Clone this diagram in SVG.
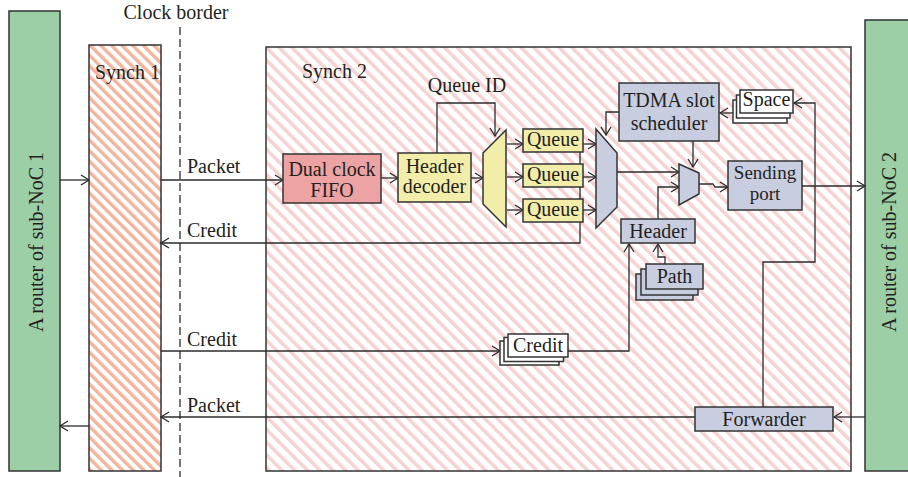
<svg xmlns="http://www.w3.org/2000/svg" width="908" height="477" viewBox="0 0 908 477">
  <defs>
    <!-- diagonal hatching for the two synchronizer areas -->
    <pattern id="hatchOrange" patternUnits="userSpaceOnUse" width="7.5" height="7.5" patternTransform="rotate(-45)">
      <rect width="7.5" height="7.5" fill="#ffffff"/>
      <rect width="3.4" height="7.5" fill="#f2b49c"/>
    </pattern>
    <pattern id="hatchPink" patternUnits="userSpaceOnUse" width="9" height="9" patternTransform="rotate(-45)">
      <rect width="9" height="9" fill="#ffffff"/>
      <rect width="3.6" height="9" fill="#f6d3d3"/>
    </pattern>
    <marker id="arrow" markerUnits="userSpaceOnUse" markerWidth="12" markerHeight="12" viewBox="0 0 12 12" refX="10" refY="6" orient="auto">
      <path d="M2,1 L10,6 L2,11" fill="none" stroke="#2b2b2b" stroke-width="1.3"/>
    </marker>
  </defs>
  <style>
    text { font-family: 'Liberation Serif', 'DejaVu Serif', 'Noto Serif', serif; font-size: 20px; fill: #231f20; }
    .mid { text-anchor: middle; }
    .box { stroke: #333333; stroke-width: 1.5; }
    .router { fill: #9ccfa5; stroke: #333333; stroke-width: 1.5; }
    .red { fill: #eda3a3; }
    .yellow { fill: #f2eda9; }
    .blue { fill: #c8cde0; }
    .white { fill: #ffffff; }
    .wire { fill: none; stroke: #2b2b2b; stroke-width: 1.3; }
    .arr { marker-end: url(#arrow); }
  </style>

  <rect width="908" height="477" fill="#ffffff"/>

  <!-- routers on both sides -->
  <g id="router1">
    <rect class="router" x="9" y="11" width="51" height="460"/>
    <text class="mid" transform="translate(43,242) rotate(-90)">A router of sub-NoC 1</text>
  </g>
  <g id="router2">
    <rect class="router" x="865" y="20" width="48" height="451"/>
    <text class="mid" transform="translate(896,242) rotate(-90)">A router of sub-NoC 2</text>
  </g>

  <!-- synchronizer regions -->
  <g id="synch1">
    <rect class="box" x="89" y="45" width="72" height="426" fill="url(#hatchOrange)"/>
    <text x="95" y="79">Synch 1</text>
  </g>
  <g id="synch2">
    <rect class="box" x="266" y="47" width="585" height="424" fill="url(#hatchPink)"/>
    <text x="302" y="78">Synch 2</text>
  </g>

  <!-- clock border -->
  <g id="clock-border">
    <line x1="180" y1="27" x2="180" y2="477" stroke="#2b2b2b" stroke-width="1.3" stroke-dasharray="8,4"/>
    <text class="mid" x="176" y="19">Clock border</text>
  </g>

  <!-- connectors -->
  <g id="connectors">
    <path class="wire arr" d="M60,180 H89"/>
    <path class="wire arr" d="M161,180 H283"/>
    <path class="wire arr" d="M381,178 H398"/>
    <path class="wire arr" d="M471,178 H483"/>
    <path class="wire arr" d="M437,153 V103 H495 V136"/>
    <path class="wire arr" d="M507,144 H523"/>
    <path class="wire arr" d="M507,177 H523"/>
    <path class="wire arr" d="M507,210 H523"/>
    <path class="wire arr" d="M583,144 H596"/>
    <path class="wire arr" d="M583,177 H596"/>
    <path class="wire arr" d="M583,210 H596"/>
    <path class="wire arr" d="M580,140 V243 H161"/>
    <path class="wire arr" d="M619,112 H606 V135"/>
    <path class="wire arr" d="M733,113 H720"/>
    <path class="wire arr" d="M763,407 V262 H815 V103 H794"/>
    <path class="wire arr" d="M617,172 H679"/>
    <path class="wire arr" d="M658,219 V187 H679"/>
    <path class="wire arr" d="M693,141 V167"/>
    <path class="wire arr" d="M699,184 H713 L715,187 H728"/>
    <path class="wire arr" d="M802,186 H865"/>
    <path class="wire arr" d="M665,264 V257 H658 V244"/>
    <path class="wire arr" d="M161,351 H500"/>
    <path class="wire arr" d="M568,351 H629 V244"/>
    <path class="wire arr" d="M865,417 H834"/>
    <path class="wire arr" d="M695,417 H161"/>
    <path class="wire arr" d="M89,426 H60"/>
    <text x="187" y="173">Packet</text>
    <text x="187" y="237">Credit</text>
    <text x="187" y="346">Credit</text>
    <text x="187" y="412">Packet</text>
    <text class="mid" x="467" y="92">Queue ID</text>
  </g>

  <!-- blocks inside Synch 2 -->
  <g id="fifo">
    <rect class="box red" x="283" y="154" width="98" height="49"/>
    <text class="mid" x="332" y="176">Dual clock</text>
    <text class="mid" x="332" y="197">FIFO</text>
  </g>
  <g id="header-decoder">
    <rect class="box yellow" x="398" y="153" width="73" height="49"/>
    <text class="mid" x="434.5" y="173">Header</text>
    <text class="mid" x="434.5" y="193">decoder</text>
  </g>
  <g id="demux">
    <polygon class="box yellow" points="483,153 506,130 506,227 483,204"/>
  </g>
  <g id="queue1">
    <rect class="box yellow" x="523" y="129" width="60" height="23"/>
    <text class="mid" x="553" y="146">Queue</text>
  </g>
  <g id="queue2">
    <rect class="box yellow" x="523" y="164" width="60" height="23"/>
    <text class="mid" x="553" y="181">Queue</text>
  </g>
  <g id="queue3">
    <rect class="box yellow" x="523" y="199" width="60" height="23"/>
    <text class="mid" x="553" y="216">Queue</text>
  </g>
  <g id="mux">
    <polygon class="box blue" points="596,129 617,153 617,207 596,228"/>
  </g>
  <g id="tdma-scheduler">
    <rect class="box blue" x="619" y="83" width="100" height="58"/>
    <text class="mid" x="669" y="107">TDMA slot</text>
    <text class="mid" x="669" y="130">scheduler</text>
  </g>
  <g id="space">
    <rect class="box white" x="733" y="100" width="54" height="23"/>
    <rect class="box white" x="736.5" y="95" width="53.5" height="23"/>
    <rect class="box white" x="740" y="90" width="53" height="23"/>
    <text class="mid" x="766.5" y="106">Space</text>
  </g>
  <g id="select-mux">
    <polygon class="box blue" points="679,164 699,173 699,194 679,205"/>
  </g>
  <g id="sending-port">
    <rect class="box blue" x="728" y="161" width="74" height="49"/>
    <text class="mid" x="765" y="179" style="font-size:19px">Sending</text>
    <text class="mid" x="765" y="200" style="font-size:19px">port</text>
  </g>
  <g id="header">
    <rect class="box blue" x="621" y="219" width="74" height="24"/>
    <text class="mid" x="658" y="238">Header</text>
  </g>
  <g id="path">
    <rect class="box blue" x="636" y="274" width="57" height="26"/>
    <rect class="box blue" x="641" y="269" width="57" height="26"/>
    <rect class="box blue" x="646" y="264" width="57" height="25"/>
    <text class="mid" x="674.5" y="283">Path</text>
  </g>
  <g id="credit-counter">
    <rect class="box white" x="500" y="341" width="59" height="24"/>
    <rect class="box white" x="504" y="337.5" width="59.5" height="24"/>
    <rect class="box white" x="508" y="334" width="60" height="23"/>
    <text class="mid" x="538" y="352">Credit</text>
  </g>
  <g id="forwarder">
    <rect class="box blue" x="695" y="407" width="138" height="24"/>
    <text class="mid" x="764" y="426">Forwarder</text>
  </g>
</svg>
